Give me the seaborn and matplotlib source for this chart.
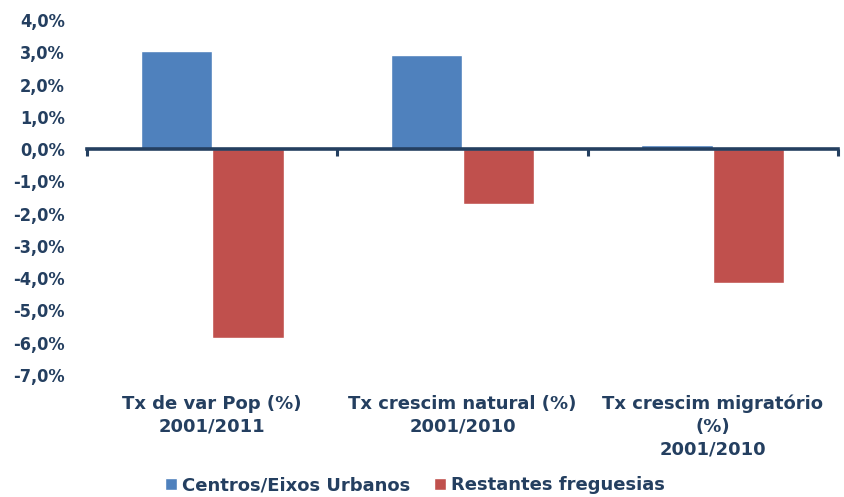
import matplotlib
matplotlib.use("Agg")
import matplotlib.pyplot as plt
import matplotlib.transforms as mtransforms
import seaborn as sns
import pandas as pd
from matplotlib.ticker import FuncFormatter, FixedLocator

categories = ["Tx de var Pop (%)\n2001/2011",
              "Tx crescim natural (%)\n2001/2010",
              "Tx crescim migratório\n(%)\n2001/2010"]
series_names = ["Centros/Eixos Urbanos", "Restantes freguesias"]
centros = [3.05, 2.92, 0.12]
restantes = [-5.85, -1.7, -4.15]
yticks = [4, 3, 2, 1, 0, -1, -2, -3, -4, -5, -6, -7]

colors = ["#4F81BD", "#C0504D"]
text_color = "#243F60"

df = pd.DataFrame({
    "cat": categories * 2,
    "serie": [series_names[0]] * 3 + [series_names[1]] * 3,
    "val": centros + restantes,
})

sns.set_style("white")
plt.rcParams["font.family"] = ["DejaVu Sans"]

fig = plt.figure(figsize=(8.44, 4.97), dpi=100)
ax = fig.add_axes([87/844, 1-375/497, (838-87)/844, (375-20)/497])

sns.barplot(data=df, x="cat", y="val", hue="serie", palette=colors,
            width=0.57, ax=ax, saturation=1, legend=True)

ax.set_ylim(-7, 4)
ax.set_xlim(-0.5, 2.5)
ax.set_yticks(yticks)
ax.yaxis.set_major_formatter(FuncFormatter(lambda v, p: f"{v:.1f}%".replace(".", ",")))
ax.tick_params(axis="y", length=0, pad=16, labelsize=13, labelcolor=text_color)
for t in ax.get_yticklabels():
    t.set_fontweight("bold")
    t.set_fontstretch("condensed")

for s in ["left", "right", "top"]:
    ax.spines[s].set_visible(False)
ax.spines["bottom"].set_position(("data", 0))
ax.spines["bottom"].set_color(text_color)
ax.spines["bottom"].set_linewidth(2.6)
ax.spines["bottom"].set_zorder(5)
ax.xaxis.set_major_locator(FixedLocator([-0.5, 0.5, 1.5, 2.5]))
ax.tick_params(axis="x", bottom=True, length=5, width=2.2, color=text_color,
               labelbottom=False, direction="out")
ax.set_xlabel("")
ax.set_ylabel("")

trans = mtransforms.blended_transform_factory(ax.transData, ax.transAxes)
for i, c in enumerate(categories):
    ax.text(i, -0.055, c, transform=trans, ha="center", va="top",
            fontsize=13, fontweight="bold", color=text_color, linespacing=1.35)

handles, labels = ax.get_legend_handles_labels()
ax.get_legend().remove()
leg = fig.legend(handles, labels, loc="center", bbox_to_anchor=(415/844, 1-485/497),
                 ncol=2, frameon=False, handlelength=0.65, handleheight=0.65,
                 handletextpad=0.3, columnspacing=1.3,
                 prop={"size": 13, "weight": "bold"})
for t in leg.get_texts():
    t.set_color(text_color)

fig.savefig("out.png", dpi=100)
